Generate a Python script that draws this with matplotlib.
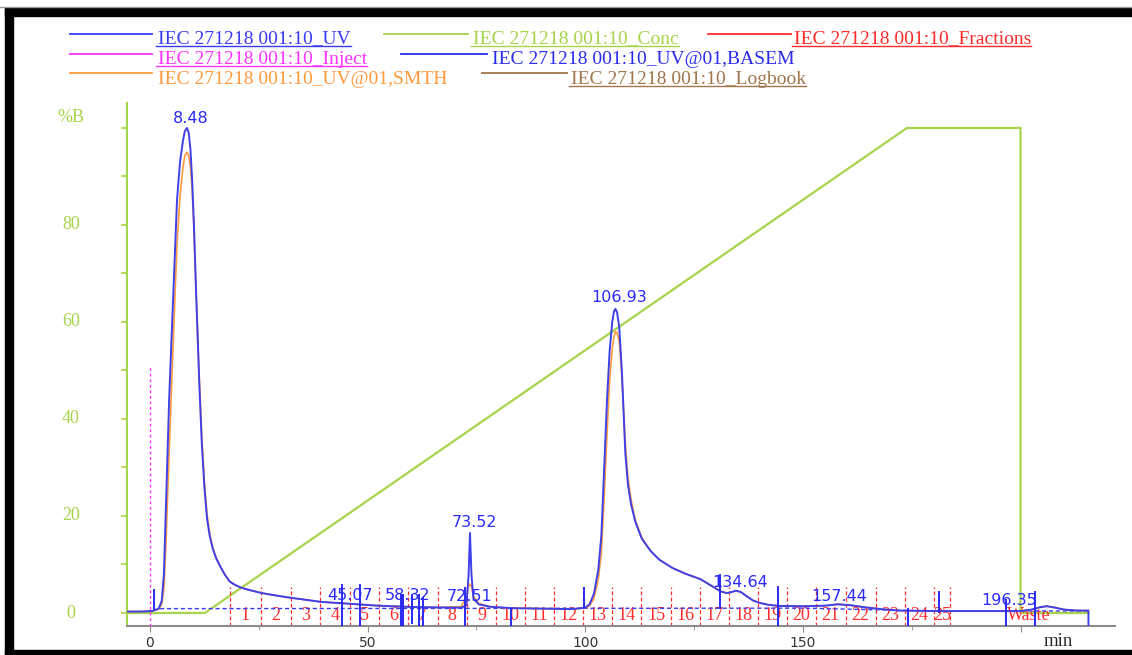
import matplotlib
matplotlib.use("Agg")
import matplotlib.pyplot as plt
from matplotlib.lines import Line2D
from matplotlib.patches import Rectangle
from matplotlib.transforms import blended_transform_factory, offset_copy

# ---------------- data ----------------
uv_time = [-5.3, -2.0, 0.5, 2.0, 2.7, 3.2, 3.7, 4.4, 5.3, 6.2,
           6.9, 7.6, 8.0, 8.48, 8.9, 9.3, 9.7, 10.1, 10.6, 11.3,
           11.9, 12.5, 13.1, 13.7, 14.4, 15.2, 16.2, 17.2, 18.3, 19.5,
           21.0, 23.0, 25.7, 29.0, 32.6, 36.0, 39.2, 42.5, 45.9, 52.5,
           60.0, 66.0, 71.5, 72.7, 73.2, 73.52, 73.85, 74.3, 75.5, 78.0,
           83.0, 90.0, 97.0, 100.0, 101.0, 102.0, 103.0, 103.7, 104.4, 105.0,
           105.6, 106.2, 106.6, 106.93, 107.3, 107.8, 108.4, 109.2, 109.8, 110.5,
           111.5, 113.0, 115.0, 117.0, 120.0, 123.0, 126.4, 129.0, 131.0, 132.5,
           133.5, 134.64, 135.8, 137.0, 138.5, 140.0, 142.0, 144.5, 150.0, 155.0,
           158.0, 161.0, 164.0, 168.0, 172.0, 180.0, 190.0, 200.0, 202.5, 204.5,
           206.0, 208.0, 210.0, 213.0, 215.6, 215.6]
uv_value = [0.3, 0.3, 0.4, 0.9, 2.5, 8.0, 23.0, 44.0, 64.5, 85.0,
            93.0, 97.5, 99.3, 100.0, 99.0, 95.5, 89.0, 80.0, 66.0, 48.0,
            35.0, 26.0, 19.5, 16.0, 13.3, 11.3, 9.5, 7.9, 6.5, 5.8,
            5.2, 4.7, 4.1, 3.6, 3.1, 2.7, 2.3, 2.1, 1.9, 1.5,
            1.25, 1.15, 1.1, 1.6, 8.0, 16.5, 8.0, 3.0, 1.8, 1.3,
            1.0, 0.9, 0.8, 1.1, 1.8, 4.0, 9.0, 16.0, 31.0, 44.0,
            54.0, 60.0, 62.2, 62.7, 62.0, 59.0, 50.0, 33.0, 26.5, 22.5,
            18.8, 15.3, 12.8, 11.0, 9.3, 8.1, 7.0, 5.6, 4.5, 4.1,
            4.3, 4.6, 4.3, 3.5, 2.6, 2.1, 1.7, 1.45, 1.4, 1.5,
            1.8, 1.6, 1.2, 0.8, 0.5, 0.4, 0.4, 0.4, 0.7, 1.2,
            1.4, 1.1, 0.7, 0.5, 0.5, -2.6]
smth_value = [0.3, 0.3, 0.4, 0.8, 1.8, 5.0, 15.0, 33.0, 55.0, 76.0,
              86.0, 92.0, 94.3, 95.0, 94.3, 92.0, 87.0, 79.0, 66.0, 49.0,
              36.5, 27.0, 20.5, 16.5, 13.6, 11.4, 9.5, 7.9, 6.5, 5.8,
              5.2, 4.7, 4.1, 3.6, 3.1, 2.7, 2.3, 2.1, 1.9, 1.5,
              1.25, 1.15, 1.3, 3.5, 5.5, 6.0, 5.5, 3.5, 2.0, 1.3,
              1.0, 0.9, 0.8, 1.0, 1.5, 3.0, 7.0, 12.5, 25.0, 37.0,
              48.0, 54.5, 57.0, 58.0, 57.8, 56.0, 49.0, 35.0, 28.0, 23.5,
              19.2, 15.5, 12.8, 11.0, 9.3, 8.1, 7.0, 5.6, 4.5, 4.1,
              4.3, 4.6, 4.3, 3.5, 2.6, 2.1, 1.7, 1.45, 1.4, 1.5,
              1.8, 1.6, 1.2, 0.8, 0.5, 0.4, 0.4, 0.4, 0.7, 1.2,
              1.4, 1.1, 0.7, 0.5, 0.5, 0.5]

conc_time = [-5.3, 12.6, 173.9, 200.0, 200.0, 215.6]
conc_value = [0, 0, 100, 100, 0, 0]

basem_time = [2.3, 150.0, 175.0, 215.6]
basem_value = [0.9, 1.0, 0.5, 0.4]

inject_time = 0.0
inject_top = 50.7

frac_edges = [18.3, 25.4, 32.3, 39.1, 45.9, 52.6, 59.2, 66.1, 72.8, 79.6,
              86.2, 92.8, 99.5, 106.2, 112.9, 119.7, 126.4, 133.0, 139.7, 146.3,
              153.0, 159.8, 166.7, 173.4, 180.1, 183.7]
waste_end = 220.0
frac_labels = [str(i) for i in range(1, 26)] + ["Waste"]

marker_time = [0.9, 44.0, 48.2, 57.7, 58.1, 60.1, 61.7, 62.7, 72.3, 83.0,
               99.8, 131.0, 144.3, 174.1, 181.2, 196.6, 203.4]
marker_low = [0.8, -2.6, -2.6, -2.6, -2.6, -2.0, -2.6, -2.6, -2.6, -2.6,
              1.0, 1.0, -2.6, -2.6, 0.2, -2.6, -2.6]
marker_high = [4.7, 5.8, 5.8, 3.8, 3.8, 3.8, 3.8, 3.0, 5.1, 0.8,
               5.2, 7.8, 5.3, 0.8, 4.3, 2.7, 4.3]

peak_names = ["8.48", "45.07", "58.32", "72.51", "73.52", "106.93", "134.64", "157.44", "196.35"]
peak_times = [8.48, 45.07, 58.32, 72.51, 73.52, 106.93, 134.64, 157.44, 196.35]
peak_label_y = [101.9, 3.7, 3.7, 3.3, 18.7, 65.0, 6.2, 3.5, 2.5]

x_ticks = [0, 50, 100, 150, 200]
x_ticklabels = ["0", "50", "100", "150", ""]
x_minor = [25, 75, 125, 175]
y_ticks = [0, 10, 20, 30, 40, 50, 60, 70, 80, 90, 100]
y_labels = [0, 20, 40, 60, 80]

legend_entries = [
    ("IEC 271218 001:10_UV", "#3a3af5", True),
    ("IEC 271218 001:10_Conc", "#a6d44a", True),
    ("IEC 271218 001:10_Fractions", "#ff2a2a", True),
    ("IEC 271218 001:10_Inject", "#ff33ff", True),
    ("IEC 271218 001:10_UV@01,BASEM", "#2a2af0", False),
    ("IEC 271218 001:10_UV@01,SMTH", "#ff9a3c", False),
    ("IEC 271218 001:10_Logbook", "#a0764a", True),
]

# ---------------- style ----------------
W, H = 1132, 655
C_UV = "#4040e8"
C_LAB = "#2a2aff"
C_GREEN = "#a6d44a"
C_RED = "#ff2a2a"
C_MAG = "#ff33ff"
C_ORG = "#ff9a3c"
SERIF = ["Liberation Serif", "DejaVu Serif"]

fig = plt.figure(figsize=(W / 100, H / 100), dpi=100)
fig.patch.set_facecolor("white")

def fx(x):
    return x / W

def fy(y):
    return 1 - y / H

# frame decorations
fig.add_artist(Line2D([0, 1], [fy(7), fy(7)], color="#9a9a9a", lw=1, transform=fig.transFigure))
fig.add_artist(Rectangle((fx(5), fy(16)), 1, fy(8) - fy(16), color="black", transform=fig.transFigure))
fig.add_artist(Rectangle((fx(5), 0), fx(13) - fx(5), fy(8), color="black", transform=fig.transFigure))
fig.add_artist(Rectangle((fx(5), 0), 1, fy(650), color="black", transform=fig.transFigure))

ax = fig.add_axes([fx(127), fy(626), fx(1115) - fx(127), fy(103) - fy(626)])
ax.set_xlim(-5.28, 221.7)
ax.set_ylim(-2.68, 105.15)
ax.set_facecolor("none")
for s in ["top", "right"]:
    ax.spines[s].set_visible(False)
ax.spines["left"].set_color(C_GREEN)
ax.spines["left"].set_linewidth(1.5)
ax.spines["bottom"].set_color("#8c8c8c")
ax.spines["bottom"].set_linewidth(1.5)

ax.set_xticks(x_ticks)
ax.set_xticklabels(x_ticklabels)
ax.set_xticks(x_minor, minor=True)
ax.tick_params(axis="x", which="both", direction="out", length=4, color="#8c8c8c",
               labelsize=10, labelcolor="#333333", pad=3.5)
ax.tick_params(axis="x", which="minor", length=3)
ax.set_yticks(y_ticks)
ax.set_yticklabels([])
ax.tick_params(axis="y", direction="out", length=4, color=C_GREEN, width=1.2)

ytr = blended_transform_factory(fig.transFigure, ax.transData)
for v in y_labels:
    ax.text(fx(71), v, str(v), transform=ytr, ha="center", va="center",
            color=C_GREEN, fontsize=13, family=SERIF)
fig.text(fx(71), fy(118), "%B", ha="center", va="center", color=C_GREEN,
         fontsize=13, family=SERIF)
fig.text(fx(1058), fy(641), "min", ha="center", va="center", color="#222222",
         fontsize=13.5, family=SERIF)

# conc
ax.plot(conc_time, conc_value, color=C_GREEN, lw=1.6, zorder=2, clip_on=False)

# fractions
for t in frac_edges:
    ax.plot([t, t], [-2.6, 5.3], color=C_RED, lw=0.9, ls=(0, (3, 2)), zorder=2)
edges_ext = frac_edges + [waste_end]
for i, lab in enumerate(frac_labels):
    c = 0.5 * (edges_ext[i] + edges_ext[i + 1])
    ax.text(c, -0.6, lab, ha="center", va="center", color=C_RED, fontsize=13,
            family=SERIF, zorder=3)

# inject
ax.plot([inject_time, inject_time], [-2.6, inject_top], color=C_MAG, lw=1.0,
        ls=(0, (2, 2)), zorder=3)

# baseline
ax.plot(basem_time, basem_value, color="#3a3af5", lw=1.0, ls=(0, (3, 2)), zorder=3)

# smoothed and raw UV
ax.plot(uv_time, smth_value, color=C_ORG, lw=1.2, zorder=4)
ax.plot(uv_time, uv_value, color=C_UV, lw=1.4, zorder=5)

# integration markers
for t, lo, hi in zip(marker_time, marker_low, marker_high):
    ax.plot([t, t], [lo, hi], color="#2a2af0", lw=1.4, zorder=5)

# peak labels
lab_tr = offset_copy(ax.transData, fig=fig, x=3, y=0, units="points")
for name, t, yv in zip(peak_names, peak_times, peak_label_y):
    ax.text(t, yv, name, transform=lab_tr, ha="center", va="center", color=C_LAB,
            fontsize=11.5, zorder=6)

# legend (manual)
rows_line_y = [34.3, 53.7, 73.3]
rows_base_y = [43.5, 63.5, 84.0]
positions = [
    (0, 70, 152, 158),
    (0, 384, 468, 473),
    (0, 708, 791, 794),
    (1, 70, 152, 158),
    (1, 401, 487, 492),
    (2, 70, 152, 158),
    (2, 482, 567, 571),
]
renderer = fig.canvas.get_renderer()
for (label, col, und), (row, lx0, lx1, tx) in zip(legend_entries, positions):
    ly = fy(rows_line_y[row])
    fig.add_artist(Line2D([fx(lx0), fx(lx1)], [ly, ly], color=col, lw=1.3,
                          transform=fig.transFigure))
    t = fig.text(fx(tx), fy(rows_base_y[row]), label, ha="left", va="baseline",
                 color=col, fontsize=14, family=SERIF)
    if und:
        bb = t.get_window_extent(renderer)
        uy = fy(rows_base_y[row] + 2.3)
        fig.add_artist(Line2D([fx(tx - 2), bb.x1 / fig.dpi / fig.get_figwidth()], [uy, uy],
                              color=col, lw=1.0, transform=fig.transFigure))

fig.savefig("out.png", dpi=100, facecolor="white")
